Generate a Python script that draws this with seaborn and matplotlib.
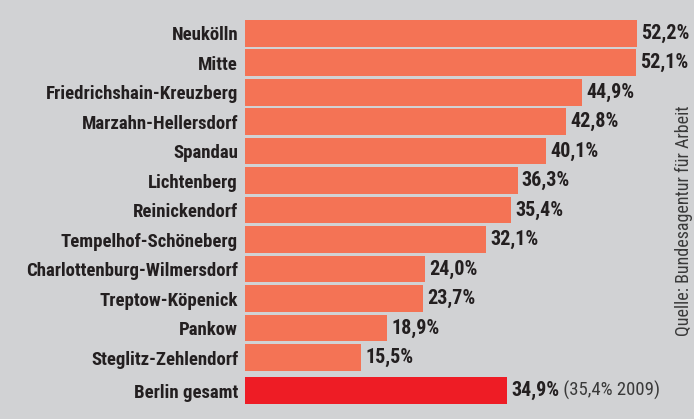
import numpy as np
import pandas as pd
import matplotlib
matplotlib.use("Agg")
import matplotlib.pyplot as plt
import seaborn as sns

# Anteil je Bezirk, Berlin gesamt separat
bezirke = ["Neukölln", "Mitte", "Friedrichshain-Kreuzberg", "Marzahn-Hellersdorf",
           "Spandau", "Lichtenberg", "Reinickendorf", "Tempelhof-Schöneberg",
           "Charlottenburg-Wilmersdorf", "Treptow-Köpenick", "Pankow",
           "Steglitz-Zehlendorf"]
werte = [52.2, 52.1, 44.9, 42.8, 40.1, 36.3, 35.4, 32.1, 24.0, 23.7, 18.9, 15.5]
gesamt_name = "Berlin gesamt"
gesamt_wert = 34.9
gesamt_2009 = "(35,4% 2009)"
quelle = "Quelle: Bundesagentur für Arbeit"

pos = list(range(len(bezirke)))
gesamt_pos = len(bezirke) + 0.12

bg = "#D1D2D4"
orange = "#F47355"
rot = "#EE1C25"
ink = "#231F20"
cond = ["Roboto Condensed", "DejaVu Sans"]

sns.set_style("white")
plt.rcParams["font.family"] = cond

df = pd.DataFrame({"pos": pos, "wert": werte})
df_g = pd.DataFrame({"pos": [gesamt_pos], "wert": [gesamt_wert]})

fig = plt.figure(figsize=(6.94, 4.19), dpi=100, facecolor=bg)
ax = fig.add_axes([245 / 694, 0, 449 / 694, 1])
ax.set_facecolor(bg)

sns.barplot(data=df, x="wert", y="pos", orient="h", native_scale=True,
            color=orange, saturation=1, width=0.9, linewidth=0, ax=ax)
sns.barplot(data=df_g, x="wert", y="pos", orient="h", native_scale=True,
            color=rot, saturation=1, width=0.9, linewidth=0, ax=ax)

ax.set_xlim(0, 59.8)
ax.set_ylim(13.08, -1.128)
ax.set_yticks(pos + [gesamt_pos])
ax.set_yticklabels(bezirke + [gesamt_name], fontsize=13.5, fontweight="bold",
                   color=ink)
ax.tick_params(axis="y", length=0, pad=5)
ax.set_xticks([])
ax.set_xlabel("")
ax.set_ylabel("")
for s in ax.spines.values():
    s.set_visible(False)

for y, v in zip(pos, werte):
    ax.annotate(f"{v:.1f}%".replace(".", ","), xy=(v, y), xytext=(3, 0),
                textcoords="offset points", va="center", ha="left",
                fontsize=14.5, fontweight="bold", color=ink,
                annotation_clip=False)

t = ax.annotate(f"{gesamt_wert:.1f}%".replace(".", ","), xy=(gesamt_wert, gesamt_pos),
                xytext=(3, 0), textcoords="offset points", va="center", ha="left",
                fontsize=14.5, fontweight="bold", color=ink)
ax.annotate(" " + gesamt_2009, xy=(1, 0), xycoords=t, va="bottom", ha="left",
            fontsize=13.5, color="#3a3a3a")

fig.text(684 / 694, 1 - 221 / 419, quelle, rotation=90, ha="center", va="center",
         fontsize=13, color="#3a3a3a")

fig.savefig("out.png", dpi=100, facecolor=bg)
